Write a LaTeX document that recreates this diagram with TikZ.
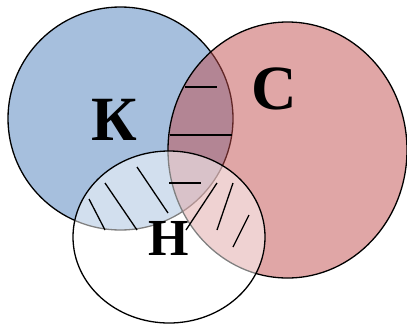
\documentclass[tikz,border=0pt]{standalone}
\usepackage{fontspec}
\setmainfont{Liberation Serif}
\usepackage{xcolor}
\usepackage{tikz}
\definecolor{setK}{RGB}{166,191,221}
\definecolor{setC}{RGB}{193,77,77}

\begin{document}
\begin{tikzpicture}[x=1pt, y=-1pt,
        setline/.style={draw=black, line width=1.3pt},
        hatch/.style={draw=black, line width=1.3pt},
        setname/.style={font=\bfseries\fontsize{63}{63}\selectfont, anchor=base, inner sep=0pt}
    ]
        \useasboundingbox (0,0) rectangle (407,325);

        \draw[setline, fill=setK] (120.5,118.5) ellipse [x radius=112.5pt, y radius=111.5pt];
        \draw[setline, fill=setC, fill opacity=0.5] (287.5,150) ellipse [x radius=119.5pt, y radius=128pt];
        \draw[setline, fill=white, fill opacity=0.5] (169,237) ellipse [x radius=96pt, y radius=86pt];

        \draw[hatch] (185,87) -- (217,87);
        \draw[hatch] (170,135) -- (232,135);
        \draw[hatch] (169,183) -- (201,183);

        \draw[hatch] (89,199) -- (105,230);
        \draw[hatch] (105,183) -- (137,230);
        \draw[hatch] (137,167) -- (168,213);

        \draw[hatch] (217,183) -- (186,230);
        \draw[hatch] (233,183) -- (217,230);
        \draw[hatch] (249,215) -- (233,247);

        \node[setname] (K) at (114.5,140) {К};
        \node[setname] (C) at (274,109) {С};
        \node[setname, font=\bfseries\fontsize{52}{52}\selectfont] (N) at (168.5,255) {Н};
    \end{tikzpicture}
\end{document}
